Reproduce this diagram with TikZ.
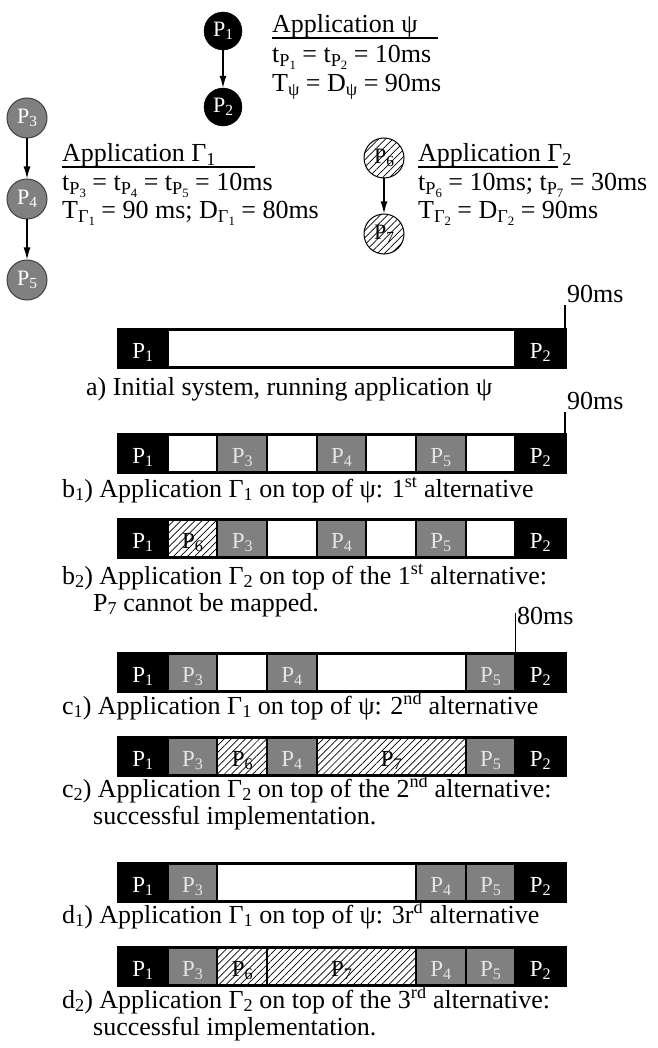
\documentclass[tikz,border=0pt]{standalone}
\usepackage{fontspec}
\usepackage{graphicx}
\setmainfont{Liberation Serif}
\usetikzlibrary{arrows.meta,patterns.meta}
\newcommand\Sb[1]{\raisebox{-0.15em}{\scalebox{0.7}{#1}}}
\newcommand\Sp[1]{\textsuperscript{#1}}
\definecolor{slotgray}{gray}{0.5}
\definecolor{slottxt}{gray}{0.9}
\newcommand\TBar[3]{%
  \foreach \s/\e/\st/\lab in {#3}{%
    \pgfmathsetmacro\xa{118+\s*49.667}%
    \pgfmathsetmacro\xb{118+\e*49.667}%
    \draw[\st] (\xa,#2) rectangle (\xb,#2+38);
    \node[slottext,\st-t] (#1-\s) at ({(\xa+\xb)/2},#2+29) {\lab};
  }
  \draw[line width=3pt] (118,#2) rectangle (565,#2+38);
}
\begin{document}
\begin{tikzpicture}[x=1pt,y=-1pt,
  txt/.style={anchor=base west,inner sep=0pt,font=\fontsize{26}{27}\selectfont},
  slottext/.style={anchor=base,inner sep=0pt,font=\fontsize{23}{23}\selectfont},
  blk/.style={fill=black,draw=black,line width=2pt},
  gry/.style={fill=slotgray,draw=black,line width=2pt},
  wht/.style={fill=white,draw=black,line width=2pt},
  hat/.style={pattern={Lines[angle=45,distance=5pt,line width=0.7pt]},draw=black,line width=2pt},
  blk-t/.style={text=white},
  gry-t/.style={text=slottxt},
  wht-t/.style={},
  hat-t/.style={text=black},
  blkc/.style={circle,fill=black,draw=black,minimum size=38pt,inner sep=0pt,text=white,font=\fontsize{22}{22}\selectfont},
  gryc/.style={circle,fill=slotgray,draw=black!75,line width=1pt,minimum size=40pt,inner sep=0pt,text=white,font=\fontsize{22}{22}\selectfont},
  hatc/.style={circle,draw=black,line width=1pt,pattern={Lines[angle=45,distance=5pt,line width=0.7pt]},minimum size=40pt,inner sep=0pt,font=\fontsize{22}{22}\selectfont},
  conn/.style={-{Latex[length=12pt,width=7pt]},line width=1.2pt},
  uline/.style={line width=1.6pt},
  dlmark/.style={line width=1.3pt}
]
\useasboundingbox (0,0) rectangle (657,1048);

% application psi
\node[blkc] (P1) at (223,31) {P\Sb{1}};
\node[blkc] (P2) at (223,107) {P\Sb{2}};
\draw[conn] (P1) -- (P2);
\node[txt] (psiA) at (272,33) {Application ψ};
\draw[uline] (272,38) -- (438,38);
\node[txt] (psiB) at (272,63) {t\Sb{P\Sb{1}} = t\Sb{P\Sb{2}} = 10ms};
\node[txt] (psiC) at (272,92) {T\Sb{ψ} = D\Sb{ψ} = 90ms};

% application Gamma1
\node[gryc] (P3) at (27,118) {P\Sb{3}};
\node[gryc] (P4) at (27,199) {P\Sb{4}};
\node[gryc] (P5) at (27,280) {P\Sb{5}};
\draw[conn] (P3) -- (P4);
\draw[conn] (P4) -- (P5);
\node[txt] (gaA) at (62,162) {Application Γ\Sb{1}};
\draw[uline] (62,167) -- (255,167);
\node[txt] (gaB) at (62,191) {t\Sb{P\Sb{3}} = t\Sb{P\Sb{4}} = t\Sb{P\Sb{5}} = 10ms};
\node[txt] (gaC) at (62,219) {T\Sb{Γ\Sb{1}} = 90 ms; D\Sb{Γ\Sb{1}} = 80ms};

% application Gamma2
\node[hatc] (P6) at (384,158) {P\Sb{6}};
\node[hatc] (P7) at (384,234) {P\Sb{7}};
\draw[conn] (P6) -- (P7);
\node[txt] (gbA) at (418,162) {Application Γ\Sb{2}};
\draw[uline] (418,167) -- (558,167);
\node[txt] (gbB) at (418,191) {t\Sb{P\Sb{6}} = 10ms; t\Sb{P\Sb{7}} = 30ms};
\node[txt] (gbC) at (418,219) {T\Sb{Γ\Sb{2}} = D\Sb{Γ\Sb{2}} = 90ms};

% bars
\TBar{a}{329}{0/1/blk/P\Sb{1},1/8/wht/{},8/9/blk/P\Sb{2}}
\TBar{bA}{434}{0/1/blk/P\Sb{1},1/2/wht/{},2/3/gry/P\Sb{3},3/4/wht/{},4/5/gry/P\Sb{4},5/6/wht/{},6/7/gry/P\Sb{5},7/8/wht/{},8/9/blk/P\Sb{2}}
\TBar{bB}{519}{0/1/blk/P\Sb{1},1/2/hat/P\Sb{6},2/3/gry/P\Sb{3},3/4/wht/{},4/5/gry/P\Sb{4},5/6/wht/{},6/7/gry/P\Sb{5},7/8/wht/{},8/9/blk/P\Sb{2}}
\TBar{cA}{653}{0/1/blk/P\Sb{1},1/2/gry/P\Sb{3},2/3/wht/{},3/4/gry/P\Sb{4},4/7/wht/{},7/8/gry/P\Sb{5},8/9/blk/P\Sb{2}}
\TBar{cB}{737}{0/1/blk/P\Sb{1},1/2/gry/P\Sb{3},2/3/hat/P\Sb{6},3/4/gry/P\Sb{4},4/7/hat/P\Sb{7},7/8/gry/P\Sb{5},8/9/blk/P\Sb{2}}
\TBar{dA}{863}{0/1/blk/P\Sb{1},1/2/gry/P\Sb{3},2/6/wht/{},6/7/gry/P\Sb{4},7/8/gry/P\Sb{5},8/9/blk/P\Sb{2}}
\TBar{dB}{947}{0/1/blk/P\Sb{1},1/2/gry/P\Sb{3},2/3/hat/P\Sb{6},3/6/hat/P\Sb{7},6/7/gry/P\Sb{4},7/8/gry/P\Sb{5},8/9/blk/P\Sb{2}}

% deadline marks
\coordinate (maT) at (565,305); \coordinate (maB) at (565,329);
\draw[dlmark] (maT) -- (maB);
\node[txt] (maL) at (567,302) {90ms};
\coordinate (mbT) at (565,412); \coordinate (mbB) at (565,434);
\draw[dlmark] (mbT) -- (mbB);
\node[txt] (mbL) at (567,409) {90ms};
\coordinate (mcT) at (515.3,613); \coordinate (mcB) at (515.3,653);
\draw[dlmark] (mcT) -- (mcB);
\node[txt] (mcL) at (517,624) {80ms};

% captions
\node[txt] (capa) at (86,395) {a) Initial system, running application ψ};
\node[txt] (capb1) at (62,497) {b\Sb{1}) Application Γ\Sb{1} on top of ψ: 1\Sp{st} alternative};
\node[txt] (capb2) at (62,584) {b\Sb{2}) Application Γ\Sb{2} on top of the 1\Sp{st} alternative:};
\node[txt] (capb2x) at (93,611) {P\Sb{7} cannot be mapped.};
\node[txt] (capc1) at (62,714) {c\Sb{1}) Application Γ\Sb{1} on top of ψ: 2\Sp{nd} alternative};
\node[txt] (capc2) at (62,797) {c\Sb{2}) Application Γ\Sb{2} on top of the 2\Sp{nd} alternative:};
\node[txt] (capc2x) at (93,824) {successful implementation.};
\node[txt] (capd1) at (62,923) {d\Sb{1}) Application Γ\Sb{1} on top of ψ: 3r\Sp{d} alternative};
\node[txt] (capd2) at (62,1008) {d\Sb{2}) Application Γ\Sb{2} on top of the 3\Sp{rd} alternative:};
\node[txt] (capd2x) at (93,1035) {successful implementation.};
\end{tikzpicture}
\end{document}
